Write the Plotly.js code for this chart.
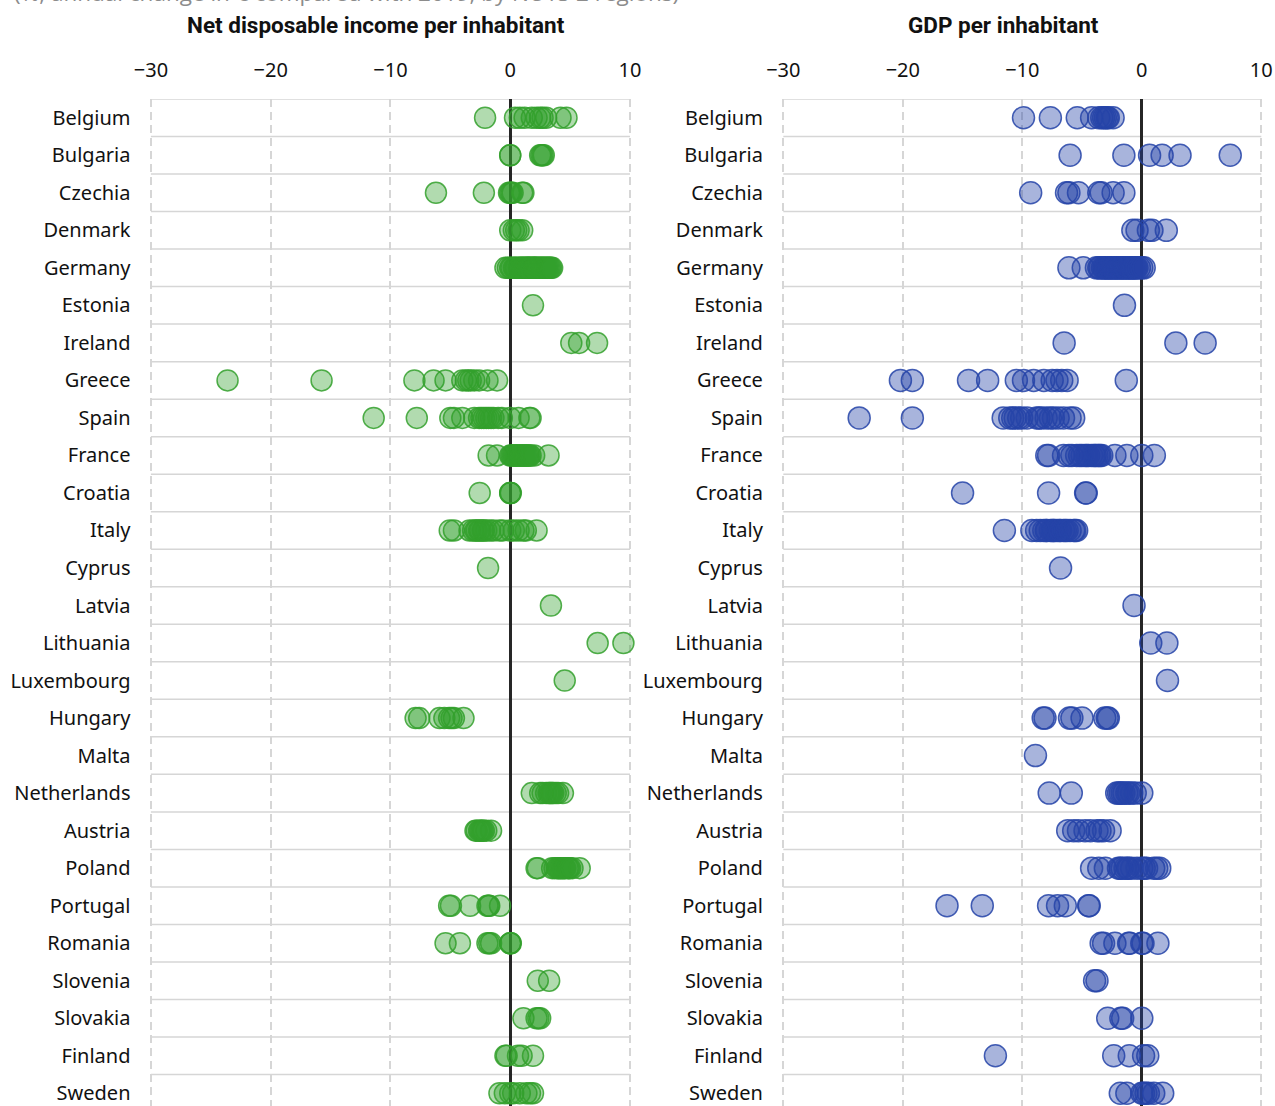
<!DOCTYPE html>
<html>
<head>
<meta charset="utf-8">
<script src="https://cdn.plot.ly/plotly-3.0.1.min.js"></script>
<style>
  html, body { margin: 0; padding: 0; background: #fff; overflow: hidden; }
  #chart { width: 1275px; height: 1106px; }
</style>
</head>
<body>
<div id="chart"></div>
<script>
// ---------- DATA ----------
const subtitle = "(%, annual change in € compared with 2019, by NUTS 2 regions)";
const panelTitles = ["Net disposable income per inhabitant", "GDP per inhabitant"];
const xTickVals = [-30, -20, -10, 0, 10];

const countries = [
  "Belgium", "Bulgaria", "Czechia", "Denmark", "Germany", "Estonia", "Ireland",
  "Greece", "Spain", "France", "Croatia", "Italy", "Cyprus", "Latvia",
  "Lithuania", "Luxembourg", "Hungary", "Malta", "Netherlands", "Austria",
  "Poland", "Portugal", "Romania", "Slovenia", "Slovakia", "Finland", "Sweden"
];

// Net disposable income per inhabitant (one list of NUTS 2 values per country)
const incomeByCountry = [
  [-2.1, 0.4, 0.8, 1.2, 1.8, 2.2, 2.5, 2.7, 3.0, 4.2, 4.7],
  [0.0, 0.0, 2.5, 2.6, 2.7, 2.8],
  [-6.2, -2.2, -0.1, 0.0, 0.1, 0.2, 1.0, 1.1],
  [0.0, 0.3, 0.5, 0.7, 1.0],
  [-0.4, -0.2, 0.0, 0.1, 0.3, 0.4, 0.5, 0.7, 0.8, 0.9, 1.0, 1.1, 1.2, 1.3, 1.4, 1.5, 1.5, 1.6, 1.7,
   1.8, 1.9, 2.0, 2.0, 2.1, 2.2, 2.3, 2.4, 2.5, 2.6, 2.7, 2.8, 2.9, 3.0, 3.1, 3.2, 3.3, 3.4, 3.5],
  [1.9],
  [5.1, 5.75, 7.25],
  [-23.6, -15.75, -8.0, -6.4, -5.4, -4.0, -3.7, -3.5, -3.3, -3.0, -2.6, -1.9, -1.1],
  [-11.4, -7.8, -5.0, -4.7, -4.0, -3.0, -2.6, -2.4, -2.2, -2.0, -1.8, -1.6, -1.4, -1.0, -0.7, 0.0, 0.7, 1.6, 1.7],
  [-1.8, -1.1, 0.0, 0.1, 0.2, 0.3, 0.4, 0.5, 0.6, 0.7, 0.8, 0.9, 1.0, 1.1, 1.2, 1.3, 1.4, 1.5, 1.6, 1.7, 2.0, 3.2],
  [-2.55, 0.0, 0.0, 0.05],
  [-5.05, -4.7, -3.4, -3.1, -2.9, -2.8, -2.6, -2.5, -2.3, -2.2, -2.0, -1.7, -1.4, -0.9, -0.6, 0.0, 0.3, 0.7, 1.1, 1.3, 2.2],
  [-1.85],
  [3.4],
  [7.3, 9.45],
  [4.55],
  [-7.9, -7.6, -5.9, -5.5, -5.1, -4.9, -4.7, -3.9],
  [],
  [1.8, 2.5, 2.7, 3.0, 3.2, 3.3, 3.4, 3.5, 3.6, 3.8, 4.0, 4.4],
  [-2.9, -2.8, -2.6, -2.5, -2.4, -2.3, -2.2, -2.0, -1.6],
  [2.2, 2.3, 3.5, 3.7, 3.9, 4.0, 4.1, 4.2, 4.3, 4.4, 4.5, 4.6, 4.8, 4.9, 5.0, 5.2, 5.8],
  [-5.1, -4.95, -3.35, -1.9, -1.8, -1.75, -0.85],
  [-5.4, -4.2, -1.9, -1.75, -1.6, 0.0, 0.0, 0.05],
  [2.3, 3.25],
  [1.1, 2.2, 2.35, 2.5],
  [-0.4, -0.3, 0.65, 0.95, 1.9],
  [-0.9, -0.45, 0.0, 0.25, 0.8, 1.35, 1.65, 1.9]
];

// GDP per inhabitant (one list of NUTS 2 values per country)
const gdpByCountry = [
  [-9.9, -7.65, -5.4, -4.2, -3.6, -3.35, -3.2, -3.05, -2.9, -2.8, -2.4],
  [-6.0, -1.5, 0.65, 1.7, 3.2, 7.4],
  [-9.3, -6.3, -6.1, -5.3, -3.6, -3.4, -2.4, -1.5],
  [-0.75, -0.4, 0.55, 0.85, 2.05],
  [-6.1, -4.9, -3.8, -3.6, -3.5, -3.3, -3.2, -3.1, -3.0, -2.9, -2.8, -2.7, -2.6, -2.5, -2.4, -2.3, -2.2, -2.1, -2.0,
   -1.9, -1.8, -1.7, -1.6, -1.5, -1.4, -1.3, -1.2, -1.1, -1.0, -0.9, -0.8, -0.7, -0.6, -0.5, -0.4, -0.2, 0.0, 0.2],
  [-1.45],
  [-6.5, 2.85, 5.3],
  [-20.2, -19.2, -14.5, -12.9, -10.5, -9.9, -9.05, -8.2, -7.5, -7.1, -6.7, -6.25, -1.3],
  [-23.65, -19.2, -11.6, -11.05, -10.8, -10.6, -10.3, -10.05, -9.6, -8.8, -8.6, -8.4, -8.0, -7.65, -7.4, -7.0, -6.55, -6.0, -5.7],
  [-7.95, -7.8, -6.55, -6.1, -5.85, -5.45, -5.2, -5.0, -4.75, -4.6, -4.45, -4.2, -4.0, -3.9, -3.75, -3.6, -3.5, -3.35, -2.25, -1.25, 0.0, 1.05],
  [-15.0, -7.8, -4.7, -4.65],
  [-11.5, -9.2, -8.8, -8.5, -8.2, -8.0, -7.95, -7.65, -7.5, -7.4, -7.3, -7.1, -6.9, -6.8, -6.55, -6.4, -6.25, -6.0, -5.7, -5.6, -5.45],
  [-6.8],
  [-0.65],
  [0.75, 2.1],
  [2.15],
  [-8.25, -8.1, -6.05, -5.85, -5.0, -3.1, -2.9, -2.8],
  [-8.9],
  [-7.75, -5.9, -2.1, -1.95, -1.8, -1.65, -1.5, -1.25, -1.1, -0.85, -0.55, 0.0],
  [-6.2, -5.7, -5.3, -4.75, -4.3, -3.75, -3.5, -3.2, -2.65],
  [-4.2, -3.6, -3.05, -1.95, -1.8, -1.65, -1.4, -1.2, -1.1, -0.85, -0.4, 0.0, 0.2, 0.4, 1.0, 1.25, 1.5],
  [-16.3, -13.35, -7.8, -7.05, -6.4, -4.45, -4.4],
  [-3.4, -3.2, -2.25, -1.1, -1.0, 0.0, 0.1, 1.35],
  [-3.95, -3.75],
  [-2.85, -1.75, -1.6, 0.0],
  [-12.25, -2.35, -1.05, 0.15, 0.5],
  [-1.8, -1.25, 0.0, 0.15, 0.35, 0.55, 1.0, 1.75]
];

// ---------- BUILD ----------
const W = 1275, H = 1106;
function flatten(byCountry) {
  const x = [], y = [], text = [];
  byCountry.forEach((vals, i) => {
    vals.forEach(v => { x.push(v); y.push(i); text.push(countries[i]); });
  });
  return {x, y, text};
}
const inc = flatten(incomeByCountry);
const gdp = flatten(gdpByCountry);

const FONT = "Noto Sans, Open Sans, sans-serif";
const GRID = "#d6d6d6";

const traces = [
  {
    type: "scatter", mode: "markers", x: inc.x, y: inc.y, text: inc.text,
    xaxis: "x", yaxis: "y", cliponaxis: false, hoverinfo: "x+text",
    marker: { size: 21, color: "rgba(51,160,44,0.38)", line: { color: "rgba(51,160,44,0.85)", width: 1.5 } }
  },
  {
    type: "scatter", mode: "markers", x: gdp.x, y: gdp.y, text: gdp.text,
    xaxis: "x2", yaxis: "y2", cliponaxis: false, hoverinfo: "x+text",
    marker: { size: 22, color: "rgba(38,68,168,0.4)", line: { color: "rgba(38,68,168,0.85)", width: 1.5 } }
  }
];

const yTop = 1 - 99 / H;
const rowsVisible = (H - 99) / 37.52;   // band height in px
const yRange = [-0.5 + rowsVisible, -0.5];
const xPad = 0.2;   // keeps the edge gridlines at -30 and 10 inside the range

function xAxis(pxLeft, pxRight, anchor) {
  const upx = (pxRight - pxLeft) / 40;
  return {
    domain: [(pxLeft - xPad * upx) / W, (pxRight + xPad * upx) / W], anchor: anchor, side: "top",
    range: [-30 - xPad, 10 + xPad], fixedrange: true,
    tickvals: xTickVals, ticks: "outside", ticklen: 13, tickcolor: "rgba(0,0,0,0)",
    tickfont: { family: FONT, size: 20, color: "#111" },
    showgrid: true, gridcolor: GRID, gridwidth: 2, griddash: "8px,5px",
    zeroline: true, zerolinecolor: "#262626", zerolinewidth: 3,
    showline: false
  };
}
function yAxis(anchor) {
  return {
    domain: [0, yTop], anchor: anchor, range: yRange, fixedrange: true,
    tickmode: "array", tickvals: countries.map((c, i) => i), ticktext: countries,
    ticks: "outside", ticklen: 13, tickcolor: "rgba(0,0,0,0)",
    ticklabeloverflow: "allow",
    tickfont: { family: FONT, size: 20, color: "#111" },
    showgrid: false, zeroline: false, showline: false
  };
}

const shapes = [];
["x", "x2"].forEach((xr, k) => {
  const yr = k === 0 ? "y" : "y2";
  for (let i = 0; i <= countries.length; i++) {
    shapes.push({
      type: "line", xref: xr, yref: yr, x0: -30, x1: 10, y0: i - 0.5, y1: i - 0.5,
      line: { color: GRID, width: 1.5 }, layer: "below"
    });
  }
});

const layout = {
  width: W, height: H,
  margin: { l: 0, r: 0, t: 0, b: 0 },
  paper_bgcolor: "#fff", plot_bgcolor: "#fff",
  showlegend: false,
  font: { family: FONT },
  xaxis: xAxis(150.9, 630, "y"),
  yaxis: yAxis("x"),
  xaxis2: xAxis(783.3, 1261.3, "y2"),
  yaxis2: yAxis("x2"),
  shapes: shapes,
  annotations: [
    { xref: "paper", yref: "paper", x: 376 / W, y: 1 - 25 / H, xanchor: "center", yanchor: "middle",
      text: "<b>" + panelTitles[0] + "</b>", showarrow: false,
      font: { family: "Roboto, sans-serif", size: 22.5, color: "#111" } },
    { xref: "paper", yref: "paper", x: 1003 / W, y: 1 - 25 / H, xanchor: "center", yanchor: "middle",
      text: "<b>" + panelTitles[1] + "</b>", showarrow: false,
      font: { family: "Roboto, sans-serif", size: 22.5, color: "#111" } },
    { xref: "paper", yref: "paper", x: 12 / W, y: 1 + 7 / H, xanchor: "left", yanchor: "middle",
      text: subtitle, showarrow: false,
      font: { family: "Open Sans, sans-serif", size: 22.5, color: "#8c8c8c" } }
  ]
};

Plotly.newPlot("chart", traces, layout, { staticPlot: true, displayModeBar: false });
</script>
</body>
</html>
